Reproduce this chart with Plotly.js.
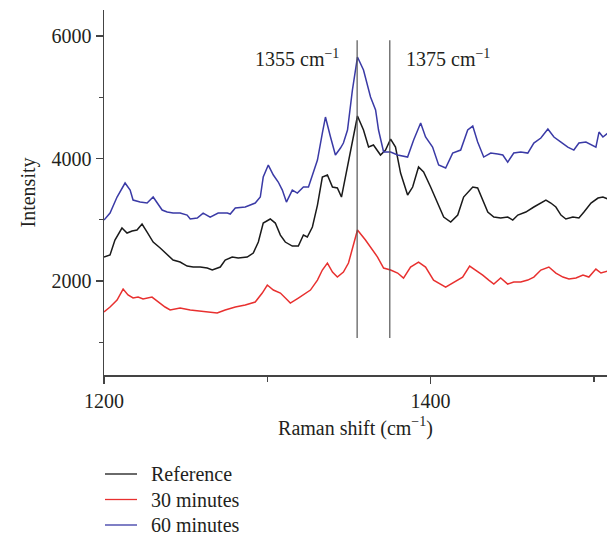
<!DOCTYPE html>
<html>
<head>
<meta charset="utf-8">
<script src="https://cdn.plot.ly/plotly-3.0.1.min.js"></script>
<style>html,body{margin:0;padding:0;background:#fff;}</style>
</head>
<body>
<div id="chart" style="width:611px;height:537px;"></div>
<script>
// Reference spectrum
const refX = [1200,1203.7,1206.7,1211.0,1214.1,1217.2,1220.2,1223.3,1226.4,1230.1,1234.4,1238.7,1242.3,1246.6,1250.9,1254.6,1258.9,1263.2,1266.3,1271.2,1274.2,1278.5,1282.2,1287.7,1291.4,1294.5,1297.5,1301.8,1304.9,1308.0,1311.0,1315.3,1319.0,1322.1,1324.5,1327.6,1330.7,1333.7,1336.8,1339.9,1342.9,1345.4,1347.9,1350.9,1352.8,1355.2,1358.9,1362.0,1365.0,1369.3,1372.4,1375.5,1378.5,1381.6,1385.9,1389.0,1392.6,1395.7,1400.0,1404.3,1408.0,1412.3,1416.6,1420.2,1425.8,1428.8,1431.9,1435.0,1438.7,1442.9,1447.2,1450.3,1453.4,1458.3,1463.2,1467.5,1470.6,1473.6,1476.7,1479.8,1482.8,1487.1,1490.8,1493.9,1498.2,1502.5,1505.5,1508.6];
const refY = [2391,2424,2669,2865,2783,2816,2832,2930,2799,2636,2538,2424,2342,2309,2244,2228,2228,2211,2179,2228,2342,2391,2375,2391,2456,2636,2946,3012,2946,2750,2636,2571,2571,2750,2718,2881,3240,3697,3730,3534,3518,3371,3697,4089,4351,4694,4465,4187,4220,4057,4138,4318,4187,3763,3404,3534,3861,3779,3534,3273,3044,2963,3077,3371,3534,3518,3322,3126,3044,3028,3044,2995,3077,3126,3208,3273,3322,3273,3208,3077,3012,3044,3028,3126,3273,3354,3371,3338];

// 30 minutes
const min30X = [1200,1203.7,1208.0,1211.7,1214.7,1217.8,1220.9,1223.9,1229.4,1233.1,1237.4,1240.5,1246.6,1252.8,1258.9,1265.0,1269.3,1274.2,1280.4,1286.5,1292.6,1296.9,1300.0,1303.7,1308.0,1312.3,1314.1,1319.0,1323.3,1326.4,1330.7,1333.7,1336.8,1339.9,1342.9,1346.6,1349.7,1352.5,1355.2,1360.1,1364.4,1367.5,1371.2,1375.5,1379.8,1383.4,1387.7,1392.6,1396.9,1401.8,1409.2,1414.1,1419.6,1423.9,1427.6,1431.9,1435.6,1438.7,1442.9,1447.2,1450.9,1455.2,1459.5,1463.2,1467.5,1472.4,1476.7,1481.0,1484.7,1489.0,1493.3,1496.9,1501.2,1504.3,1508.6];
const min30Y = [1493,1575,1689,1869,1771,1722,1738,1705,1738,1656,1575,1526,1558,1526,1509,1493,1477,1526,1575,1607,1656,1803,1934,1852,1803,1689,1640,1722,1803,1852,2015,2179,2293,2146,2064,2146,2293,2554,2832,2669,2505,2391,2211,2179,2130,2048,2228,2309,2228,2015,1901,1983,2064,2244,2179,2097,2015,1950,2048,1950,1983,1983,2015,2064,2179,2228,2130,2064,2032,2048,2097,2064,2195,2130,2162];

// 60 minutes
const min60X = [1200,1203.7,1208,1212.9,1216,1217.8,1222.1,1226.4,1230.1,1235.6,1238.7,1242.3,1246.6,1250.9,1252.8,1257.1,1260.7,1265,1269.9,1275.5,1277.3,1280.4,1286.5,1292.6,1295.7,1297.5,1300.6,1303.7,1306.7,1309.2,1311.7,1315.3,1318.4,1322.1,1325.2,1327.6,1330.7,1333.7,1335.6,1338.7,1341.7,1344.8,1346.6,1349.1,1352.1,1355.2,1358.9,1363.2,1366.3,1368.1,1371.2,1375.5,1379.8,1385.9,1389.6,1393.9,1396.9,1401.2,1404.9,1409.2,1413.5,1418.4,1422.7,1425.8,1428.8,1432.5,1436.8,1441.1,1444.2,1447.2,1450.9,1455.2,1459.5,1463.2,1467.5,1471.8,1475.5,1479.8,1484,1487.7,1490.8,1495.1,1499.4,1501.2,1503.1,1505.5,1508.6];
const min60Y = [2995,3109,3371,3600,3485,3322,3289,3273,3371,3159,3126,3109,3109,3077,3012,3028,3109,3044,3109,3109,3093,3191,3208,3273,3371,3697,3893,3730,3616,3485,3289,3485,3436,3534,3534,3730,3975,4416,4677,4351,4057,4171,4253,4465,5118,5657,5445,5004,4792,4465,4106,4106,4057,4024,4302,4579,4351,4187,3893,3844,4089,4138,4465,4530,4269,4024,4089,4073,4057,3942,4089,4106,4089,4253,4334,4481,4351,4269,4187,4138,4253,4269,4220,4187,4432,4351,4416];

const seriesNames = ["Reference", "30 minutes", "60 minutes"];
const seriesColors = ["#1a1a1a", "#e8302f", "#3a3aa6"];

// Marker lines and their labels
const peakLines = [1355, 1375];
const peakLabels = ["1355 cm<sup>−1</sup>", "1375 cm<sup>−1</sup>"];
const peakLineSpan = [1070, 5930];

const xTitle = "Raman shift (cm<sup>−1</sup>)";
const yTitle = "Intensity";

const FONT = "'Liberation Serif', 'Times New Roman', serif";
const TXT = "#231f20";
const AX = "#444";

// plot-area geometry in pixels (used only to place the hand-built legend)
const W = 611, H = 537, ML = 104, MR = 4, MT = 10, MB = 162;
const PW = W - ML - MR, PH = H - MT - MB;
const px2x = p => (p - ML) / PW;
const py2y = p => (H - MB - p) / PH;
const legendRowsPx = [474, 499.5, 525];

const xs = [refX, min30X, min60X];
const ys = [refY, min30Y, min60Y];
const traces = seriesNames.map((n, i) => ({
  type: "scatter", mode: "lines", name: n,
  x: xs[i], y: ys[i],
  line: {color: seriesColors[i], width: 1.5}
}));

const shapes = peakLines.map(p => ({
  type: "line", xref: "x", yref: "y",
  x0: p, x1: p, y0: peakLineSpan[0], y1: peakLineSpan[1],
  line: {color: "#555", width: 1.2}
}));

const annotations = [
  {xref: "x", yref: "y", x: peakLines[0], xshift: -16, xanchor: "right", y: 5640, yanchor: "middle",
   text: peakLabels[0], showarrow: false, font: {family: FONT, size: 20, color: TXT}},
  {xref: "x", yref: "y", x: peakLines[1], xshift: 14, xanchor: "left", y: 5640, yanchor: "middle",
   text: peakLabels[1], showarrow: false, font: {family: FONT, size: 20, color: TXT}}
];

// legend built from series names and colours
seriesNames.forEach((n, i) => {
  const yy = py2y(legendRowsPx[i]);
  shapes.push({type: "line", xref: "paper", yref: "paper",
    x0: px2x(105), x1: px2x(137), y0: yy, y1: yy,
    line: {color: seriesColors[i], width: 1.3}});
  annotations.push({xref: "paper", yref: "paper", x: px2x(149), y: yy,
    xanchor: "left", yanchor: "middle", showarrow: false, text: n,
    font: {family: FONT, size: 20, color: TXT}});
});

const layout = {
  width: W, height: H,
  margin: {l: ML, r: MR, t: MT, b: MB, pad: 0},
  paper_bgcolor: "#fff", plot_bgcolor: "#fff",
  font: {family: FONT, size: 20, color: TXT},
  showlegend: false,
  xaxis: {
    range: [1200, 1508], tick0: 1200, dtick: 200,
    ticks: "outside", ticklen: 7, tickwidth: 1.2, tickcolor: AX,
    showline: true, linecolor: AX, linewidth: 1.5,
    showgrid: false, zeroline: false,
    minor: {tick0: 1200, dtick: 100, ticks: "outside", ticklen: 5, tickwidth: 1.2, tickcolor: AX, showgrid: false},
    tickfont: {family: FONT, size: 20, color: TXT},
    title: {text: xTitle, font: {family: FONT, size: 20, color: TXT}, standoff: 10}
  },
  yaxis: {
    range: [465, 6425], tick0: 0, dtick: 2000,
    ticks: "outside", ticklen: 7, tickwidth: 1.2, tickcolor: AX,
    showline: true, linecolor: AX, linewidth: 1.5,
    showgrid: false, zeroline: false,
    minor: {tick0: 0, dtick: 1000, ticks: "outside", ticklen: 4, tickwidth: 1.2, tickcolor: AX, showgrid: false},
    tickfont: {family: FONT, size: 20, color: TXT},
    title: {text: yTitle, font: {family: FONT, size: 20, color: TXT}, standoff: 10}
  },
  shapes: shapes,
  annotations: annotations
};

Plotly.newPlot("chart", traces, layout, {staticPlot: true, displayModeBar: false});
</script>
</body>
</html>
